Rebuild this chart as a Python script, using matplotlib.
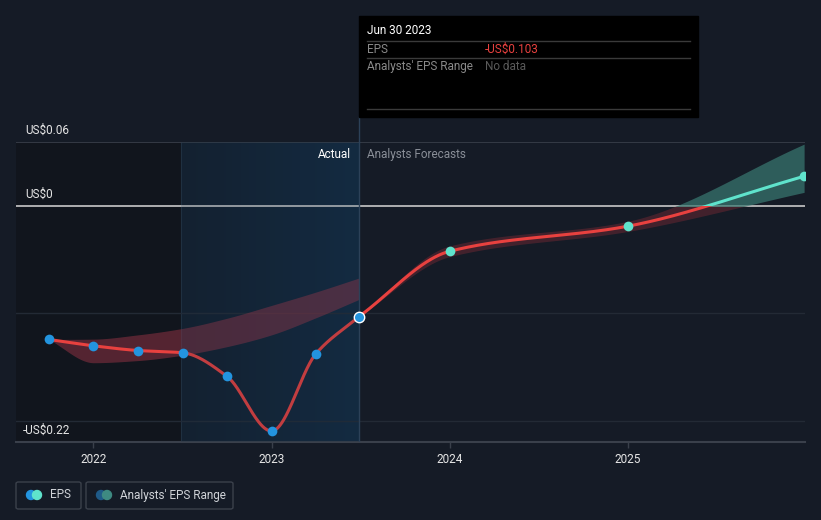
import numpy as np
import matplotlib

matplotlib.use("Agg")
import matplotlib.pyplot as plt
from matplotlib.patches import Rectangle, FancyBboxPatch, Ellipse
from matplotlib.lines import Line2D

# EPS history (quarter ends, decimal years) and analyst forecasts
actual_x = [2021.75, 2022.0, 2022.25, 2022.5, 2022.75, 2023.0, 2023.25, 2023.49]
actual_eps = [-0.1243, -0.1302, -0.1346, -0.1367, -0.1588, -0.2098, -0.1374, -0.103]

# past analysts' range band
past_band_x = [2021.75, 2022.0, 2022.25, 2022.5, 2022.75, 2023.0, 2023.25, 2023.49]
past_band_hi = [-0.1243, -0.1240, -0.1200, -0.1140, -0.1045, -0.0925, -0.0800, -0.0670]
past_band_lo = [-0.1243, -0.1460, -0.1440, -0.1390, -0.1310, -0.1200, -0.1040, -0.0870]

fc_x = [2023.49, 2024.0, 2025.0, 2025.99]
fc_eps = [-0.103, -0.0420, -0.0186, 0.0280]
fc_hi = [-0.103, -0.0370, -0.0140, 0.0580]
fc_lo = [-0.103, -0.0470, -0.0235, 0.0130]

year_ticks = [2022, 2023, 2024, 2025]

BG = "#151b26"
RED = "#e8413f"
TEAL = "#5fe3cc"
BLUE_PT = "#2394df"
W, H = 821, 520


def monotone(xs, ys, n=200):
    """Monotone cubic (Fritsch-Carlson) curve through the points."""
    x = np.asarray(xs, float)
    y = np.asarray(ys, float)
    h = np.diff(x)
    d = np.diff(y) / h
    m = np.zeros_like(y)
    m[0], m[-1] = d[0], d[-1]
    for i in range(1, len(y) - 1):
        if d[i - 1] * d[i] <= 0:
            m[i] = 0
        else:
            w1, w2 = 2 * h[i] + h[i - 1], h[i] + 2 * h[i - 1]
            m[i] = (w1 + w2) / (w1 / d[i - 1] + w2 / d[i])
    xx, yy = [], []
    for i in range(len(h)):
        t = np.linspace(0, 1, n)
        h00 = 2 * t**3 - 3 * t**2 + 1
        h10 = t**3 - 2 * t**2 + t
        h01 = -2 * t**3 + 3 * t**2
        h11 = t**3 - t**2
        xx.append(x[i] + t * h[i])
        yy.append(h00 * y[i] + h10 * h[i] * m[i] + h01 * y[i + 1] + h11 * h[i] * m[i + 1])
    return np.concatenate(xx), np.concatenate(yy)


def px(x, y):
    return x / W, 1 - y / H


plt.rcParams["font.family"] = ["Roboto", "DejaVu Sans"]
fig = plt.figure(figsize=(W / 100, H / 100), dpi=100, facecolor=BG)
ax = fig.add_axes([16 / W, (H - 442) / H, 789 / W, 300 / H])
ax.set_facecolor(BG)
x0, x1 = 2021.565, 2025.995
ax.set_xlim(x0, x1)
ax.set_ylim(-0.22, 0.06)
for s in ax.spines.values():
    s.set_visible(False)

# darker past region and blue highlighted last year
ax.axvspan(x0, 2022.49, color="#11151d", zorder=0, lw=0)
grad = np.linspace(0, 1, 256).reshape(1, -1)
c0 = np.array([0x14, 0x1e, 0x2b]) / 255
c1 = np.array([0x13, 0x2a, 0x40]) / 255
img = c0[None, None, :] * (1 - grad[..., None]) + c1[None, None, :] * grad[..., None]
ax.imshow(img, extent=[2022.49, 2023.49, -0.22, 0.06], aspect="auto", zorder=0.5)
ax.axvline(2022.49, color="#22303f", lw=0.8, zorder=0.6)

# grid
for gy in (-0.1, -0.2):
    ax.axhline(gy, color="#232a35", lw=1, zorder=1)
ax.axhline(0.06, color="#3a404b", lw=1.2, zorder=1)
ax.axhline(0, color="#c9c9c9", lw=1.2, zorder=2)
ax.axhline(-0.22, color="#3a404b", lw=1.5, zorder=2, clip_on=False)

below = Rectangle((x0, -1), x1 - x0, 1, transform=ax.transData)
above = Rectangle((x0, 0), x1 - x0, 1, transform=ax.transData)

# past band
bx, bh = monotone(past_band_x, past_band_hi)
_, bl = monotone(past_band_x, past_band_lo)
ax.fill_between(bx, bl, bh, color="#a8384a", alpha=0.45, lw=0, zorder=3)

# forecast band
fx, fh = monotone(fc_x, fc_hi)
_, fl = monotone(fc_x, fc_lo)
fb = ax.fill_between(fx, fl, fh, color="#7a2a34", alpha=0.45, lw=0, zorder=3)
fb.set_clip_path(below)
fb2 = ax.fill_between(fx, fl, fh, color="#3a7a72", alpha=0.7, lw=0, zorder=3)
fb2.set_clip_path(above)

# EPS line
ax_, ay_ = monotone(actual_x, actual_eps)
ax.plot(ax_, ay_, color=RED, lw=2.2, zorder=4, solid_capstyle="round")
fx_, fy_ = monotone(fc_x, fc_eps)
l1, = ax.plot(fx_, fy_, color=RED, lw=2.2, zorder=4)
l1.set_clip_path(below)
l2, = ax.plot(fx_, fy_, color=TEAL, lw=2.2, zorder=4)
l2.set_clip_path(above)

# muted overlay over highlighted area
ax.axvspan(2022.49, 2023.49, color="#16304a", alpha=0.18, zorder=4.5, lw=0)

# divider actual/forecast
ax.axvline(2023.49, ymin=0, ymax=1, color="#2c4158", lw=1, zorder=4.6)
fig.add_artist(Line2D([359 / W, 359 / W], [1 - 117 / H, 1 - 142 / H], color="#2c4158", lw=1))

ax.plot(actual_x[:-1], actual_eps[:-1], "o", color=BLUE_PT, ms=7, zorder=5, mec="none")
ax.plot(actual_x[-1:], actual_eps[-1:], "o", color=BLUE_PT, ms=7.5, zorder=5, mec="white", mew=1)
ax.plot(fc_x[1:], fc_eps[1:], "o", color=TEAL, ms=7, zorder=5, mec="none")

ax.set_xticks(year_ticks)
ax.set_xticklabels([str(y) for y in year_ticks])
ax.set_yticks([])
ax.tick_params(axis="x", colors="#3a404b", length=4, width=1, labelcolor="#e6e6e6", labelsize=8.5, pad=4)

# y labels
for lx, yy, lab in ((25, 130, "US$0.06"), (25, 194, "US$0"), (23, 430, "-US$0.22")):
    fig.text(*px(lx, yy), lab, color="#e6e6e6", fontsize=8.5, va="center", ha="left")

fig.text(*px(351, 154), "Actual", color="#ffffff", fontsize=8.5, va="center", ha="right")
fig.text(*px(367, 154), "Analysts Forecasts", color="#8a8f98", fontsize=8.5, va="center", ha="left")

# tooltip
fig.add_artist(Rectangle(px(359, 117), 339 / W, 101 / H, color="#000000", zorder=10))
fig.text(*px(367, 31), "Jun 30 2023", color="#ffffff", fontsize=8.5, va="center", zorder=11)
for ly in (41, 58, 109):
    fig.add_artist(Line2D([367 / W, 690 / W], [1 - ly / H] * 2, color="#3a3a3a", lw=1, zorder=11))
fig.text(*px(367, 49.5), "EPS", color="#8a8a8a", fontsize=8.5, va="center", zorder=11)
fig.text(*px(485, 49.5), "-US$0.103", color="#e8413f", fontsize=8.5, va="center", zorder=11)
fig.text(*px(367, 66.5), "Analysts' EPS Range", color="#8a8a8a", fontsize=8.5, va="center", zorder=11)
fig.text(*px(485, 66.5), "No data", color="#5a5a5a", fontsize=8.5, va="center", zorder=11)

# legend: outlined boxes with two overlapping dots each
for (lx, lw_, label, ca, cb, tx) in (
    (16, 65, "EPS", BLUE_PT, TEAL, 50),
    (86, 147, "Analysts' EPS Range", "#1f5a88", "#3e8a82", 120),
):
    fig.add_artist(FancyBboxPatch(px(lx, 509), lw_ / W, 27 / H,
                                  boxstyle="round,pad=0,rounding_size=0.003",
                                  fc="none", ec="#3b414b", lw=1))
    cy = 495
    fig.add_artist(Ellipse(px(lx + 15, cy), 9 / W, 9 / H, color=ca, transform=fig.transFigure))
    fig.add_artist(Ellipse(px(lx + 21, cy), 9 / W, 9 / H, color=cb, transform=fig.transFigure))
    fig.text(*px(tx, cy), label, color="#d0d3d8", fontsize=8.5, va="center", ha="left")

fig.savefig("out.png", dpi=100, facecolor=BG)
